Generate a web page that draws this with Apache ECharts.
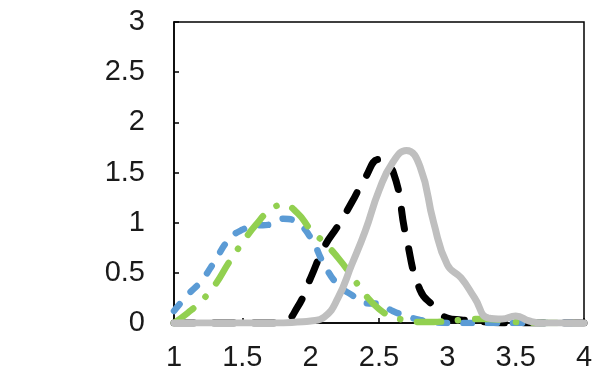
<!DOCTYPE html>
<html>
<head>
<meta charset="utf-8">
<script src="https://cdn.jsdelivr.net/npm/echarts@6/dist/echarts.min.js"></script>
<style>html,body{margin:0;padding:0;background:#fff}#c{width:603px;height:384px}</style>
</head>
<body>
<div id="c"></div>
<script>
var xValues = [1.0,1.1,1.2,1.3,1.4,1.5,1.6,1.7,1.8,1.9,2.0,2.1,2.2,2.3,2.4,2.5,2.6,2.7,2.8,2.9,3.0,3.1,3.2,3.3,3.4,3.5,3.6,3.7,3.8,3.9,4.0];
var blackValues = [0,0,0,0,0,0,0,0,0.01,0.15,0.45,0.76,0.97,1.2,1.45,1.63,1.52,0.85,0.33,0.17,0.05,0.03,0.02,0.01,0,0,0,0,0,0,0];
var blueValues = [0.12,0.28,0.42,0.62,0.83,0.93,0.97,0.98,1.04,1.0,0.85,0.58,0.38,0.28,0.2,0.19,0.12,0.07,0.03,0.01,0,0,0,0,0,0,0,0,0,0,0];
var greenValues = [0,0.1,0.22,0.38,0.6,0.8,0.98,1.12,1.18,1.1,0.93,0.8,0.65,0.47,0.28,0.14,0.06,0.03,0.01,0.01,0.02,0.03,0.04,0.04,0.03,0.01,0,0,0,0,0];
var grayValues = [0,0,0,0,0,0,0,0,0,0.01,0.02,0.06,0.25,0.58,0.92,1.32,1.6,1.72,1.56,1.0,0.58,0.45,0.25,0.05,0.04,0.07,0.02,0,0,0,0];
var xTicks = [1,1.5,2,2.5,3,3.5,4];
var yTicks = [0,0.5,1,1.5,2,2.5,3];

function pairs(v){ return xValues.map(function(x,i){ return [x, v[i]]; }); }

var chart = echarts.init(document.getElementById('c'), null, {renderer:'canvas'});
var labelFont = {fontFamily:'Liberation Sans, Arial, sans-serif', fontSize:29, color:'#1a1a1a'};
chart.setOption({
  animation:false,
  grid:{left:174,right:19,top:22,bottom:61,show:true,borderColor:'#000',borderWidth:1.5,backgroundColor:'transparent'},
  xAxis:{type:'value',min:xTicks[0],max:xTicks[xTicks.length-1],interval:0.5,
    axisLine:{show:true,onZero:false,lineStyle:{color:'#000',width:1.5}},
    axisTick:{show:true,inside:true,length:5,lineStyle:{color:'#000',width:1.5}},
    splitLine:{show:false},
    axisLabel:Object.assign({margin:20},labelFont)},
  yAxis:{type:'value',min:yTicks[0],max:yTicks[yTicks.length-1],interval:0.5,
    axisLine:{show:true,lineStyle:{color:'#000',width:1.5}},
    axisTick:{show:true,inside:true,length:5,lineStyle:{color:'#000',width:1.5}},
    splitLine:{show:false},
    axisLabel:Object.assign({margin:29},labelFont)},
  series:[
    {type:'line',data:pairs(blackValues),smooth:0.5,showSymbol:false,z:2,
      lineStyle:{color:'#000000',width:7,type:[20,20],cap:'round'}},
    {type:'line',data:pairs(blueValues),smooth:0.5,showSymbol:false,z:3,
      lineStyle:{color:'#5B9BD5',width:6.5,type:[9,16],cap:'round'}},
    {type:'line',data:pairs(greenValues),smooth:0.5,showSymbol:false,z:4,
      lineStyle:{color:'#92D050',width:6.5,type:[24,17,0.1,17],cap:'round'}},
    {type:'line',data:pairs(grayValues),smooth:0.5,showSymbol:false,z:5,
      lineStyle:{color:'#BFBFBF',width:7,type:'solid',cap:'round'}}
  ]
});
</script>
</body>
</html>
